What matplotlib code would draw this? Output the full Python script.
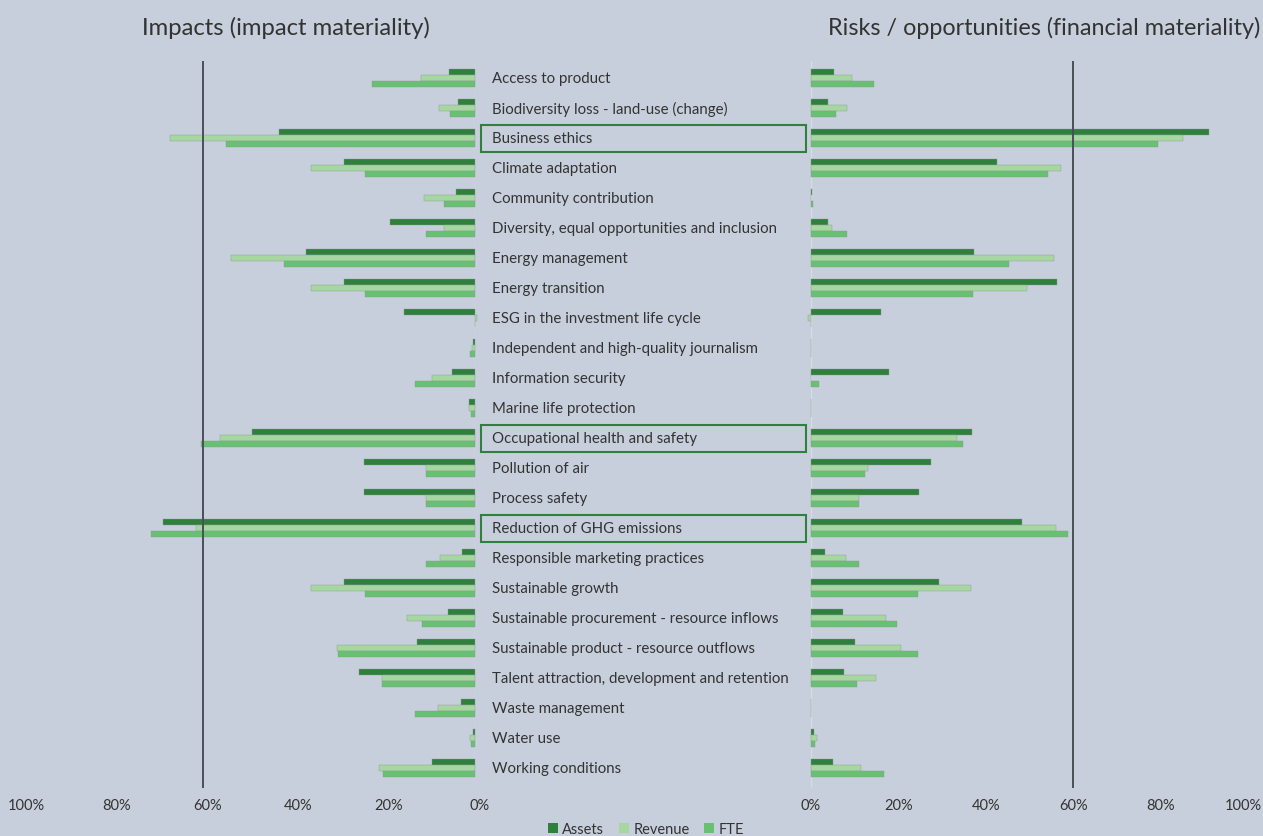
import matplotlib
matplotlib.use("Agg")
import matplotlib.pyplot as plt
import matplotlib.transforms as mtransforms
from matplotlib.patches import Rectangle, Patch

categories = [
    "Access to product",
    "Biodiversity loss - land-use (change)",
    "Business ethics",
    "Climate adaptation",
    "Community contribution",
    "Diversity, equal opportunities and inclusion",
    "Energy management",
    "Energy transition",
    "ESG in the investment life cycle",
    "Independent and high-quality journalism",
    "Information security",
    "Marine life protection",
    "Occupational health and safety",
    "Pollution of air",
    "Process safety",
    "Reduction of GHG emissions",
    "Responsible marketing practices",
    "Sustainable growth",
    "Sustainable procurement - resource inflows",
    "Sustainable product - resource outflows",
    "Talent attraction, development and retention",
    "Waste management",
    "Water use",
    "Working conditions",
]
highlighted = ["Business ethics", "Occupational health and safety", "Reduction of GHG emissions"]

# Impact materiality (left panel), in %
impact_assets = [5.9, 3.8, 43.4, 28.9, 4.2, 18.8, 37.3, 28.9, 15.8, 0.4, 5.1, 1.5,
                 49.3, 24.5, 24.5, 69.0, 2.9, 28.9, 6.0, 12.8, 25.6, 3.1, 0.5, 9.6]
impact_revenue = [12.0, 8.1, 67.4, 36.2, 11.4, 7.0, 53.8, 36.2, -0.4, 0.7, 9.5, 1.4,
                  56.4, 10.9, 10.9, 61.6, 7.8, 36.2, 15.0, 30.6, 20.5, 8.2, 1.2, 21.3]
impact_fte = [22.7, 5.6, 54.9, 24.3, 6.9, 10.9, 42.3, 24.3, 0.1, 1.2, 13.3, 0.9,
              60.6, 10.8, 10.8, 71.6, 10.9, 24.3, 11.7, 30.2, 20.6, 13.3, 0.9, 20.4]

# Financial materiality (right panel), in %
fin_assets = [5.3, 4.0, 91.1, 42.5, 0.2, 3.9, 37.2, 56.3, 16.0, 0.0, 17.9, 0.0,
              36.8, 27.4, 24.7, 48.2, 3.1, 29.2, 7.4, 10.1, 7.6, 0.0, 0.6, 5.0]
fin_revenue = [9.3, 8.3, 85.1, 57.2, 0.0, 4.8, 55.6, 49.4, -0.6, 0.0, 0.0, 0.0,
               33.5, 13.0, 11.0, 56.0, 7.9, 36.5, 17.1, 20.6, 14.9, 0.0, 1.3, 11.5]
fin_fte = [14.4, 5.8, 79.5, 54.3, 0.5, 8.2, 45.3, 37.0, 0.1, 0.0, 1.8, 0.0,
           34.8, 12.4, 11.0, 58.9, 11.0, 24.5, 19.6, 24.5, 10.5, 0.0, 1.0, 16.8]

series_names = ["Assets", "Revenue", "FTE"]
colors = ["#2f7f3d", "#a6d7a1", "#68c073"]
threshold = 60
ticks = [0, 20, 40, 60, 80, 100]
tick_labels = ["0%", "20%", "40%", "60%", "80%", "100%"]

BG = "#c8cfdc"
TXT = "#333333"
FONT = ["Lato", "DejaVu Sans"]
plt.rcParams["font.family"] = FONT

W, H = 1263, 837
fig = plt.figure(figsize=(W / 100, H / 100), dpi=100, facecolor=BG)

top_px, bot_px = 62, 789
row0_px, row_step = 79, 30
y_top = (top_px - row0_px) / row_step
y_bot = (bot_px - row0_px) / row_step


def fx(px):
    return px / W


def fy(px):
    return 1 - px / H


ax_l = fig.add_axes([fx(22), fy(bot_px), fx(475.3 - 22), fy(top_px) - fy(bot_px)])
ax_r = fig.add_axes([fx(811), fy(bot_px), fx(1248 - 811), fy(top_px) - fy(bot_px)])

n = len(categories)
ys = list(range(n))
bh = 0.2
offsets = [-bh, 0, bh]

for ax, data, xl in [
    (ax_l, [impact_assets, impact_revenue, impact_fte], (100, 0)),
    (ax_r, [fin_assets, fin_revenue, fin_fte], (0, 100)),
]:
    ax.set_facecolor(BG)
    for vals, off, c in zip(data, offsets, colors):
        ax.barh([y + off for y in ys], vals, height=bh, color=c,
                edgecolor="#8a9a90", linewidth=0.3, clip_on=False, zorder=3)
    ax.set_xlim(*xl)
    ax.set_ylim(y_bot, y_top)
    ax.axvline(threshold, color="#4a4f57", lw=1.4, zorder=4)
    ax.axvline(0, color="#d6dbe4", lw=1.0, zorder=2)
    ax.set_xticks(ticks)
    ax.set_xticklabels(tick_labels)
    ax.set_yticks([])
    ax.tick_params(axis="x", length=0, pad=7, labelsize=10.5, labelcolor=TXT)
    for s in ax.spines.values():
        s.set_visible(False)

# nudge tick labels as in the reference
for lab in ax_l.get_xticklabels():
    lab.set_transform(lab.get_transform() + mtransforms.ScaledTranslation(4 / 100, 0, fig.dpi_scale_trans))
last = ax_r.get_xticklabels()[-1]
last.set_transform(last.get_transform() + mtransforms.ScaledTranslation(-5 / 100, 0, fig.dpi_scale_trans))

# category labels in the middle
for i, cat in enumerate(categories):
    ypx = row0_px + i * row_step
    fig.text(fx(491.5), fy(ypx), cat, ha="left", va="center",
             fontsize=10.8, color=TXT)
    if cat in highlighted:
        fig.patches.append(Rectangle((fx(481), fy(ypx + 13.5)), fx(806 - 481), fy(ypx - 13.5) - fy(ypx + 13.5),
                                     transform=fig.transFigure, fill=False,
                                     edgecolor="#2f7f3d", linewidth=1.5))

fig.text(fx(286), fy(28), "Impacts (impact materiality)", ha="center", va="center",
         fontsize=17.2, color=TXT)
fig.text(fx(1260), fy(28), "Risks / opportunities (financial materiality)", ha="right", va="center",
         fontsize=16.8, color=TXT)

handles = [Patch(facecolor=c, edgecolor="none") for c in colors]
fig.legend(handles, series_names, loc="center", bbox_to_anchor=(fx(646), fy(830)),
           ncol=3, frameon=False, fontsize=10.5, handlelength=0.7, handleheight=0.7,
           handletextpad=0.3, columnspacing=1.0, labelcolor=TXT)

fig.savefig("out.png", dpi=100, facecolor=BG)
